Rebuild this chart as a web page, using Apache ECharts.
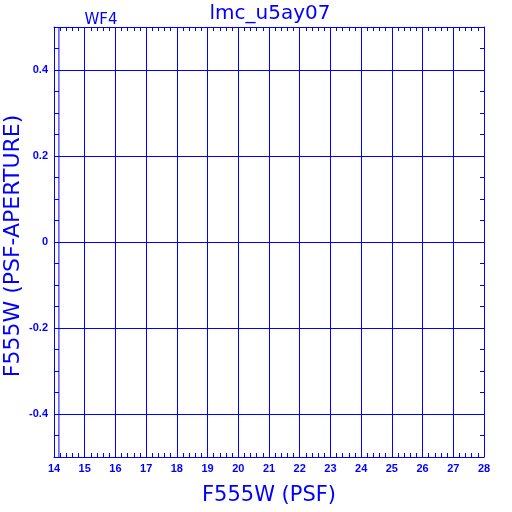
<!DOCTYPE html>
<html>
<head>
<meta charset="utf-8">
<script src="https://cdn.jsdelivr.net/npm/echarts@6/dist/echarts.min.js"></script>
<style>html,body{margin:0;padding:0;background:#fff}#c{width:512px;height:512px}</style>
</head>
<body>
<div id="c"></div>
<script>
var titleText = 'lmc_u5ay07';
var chipLabel = 'WF4';
var xName = 'F555W (PSF)';
var yName = 'F555W (PSF-APERTURE)';
var xRange = [14, 28];
var yRange = [-0.5, 0.5];
var markerLineX = [14.16, 14.16];
var markerLineY = [-0.5, 0.5];

var BLUE = '#0000ff';
var chart = echarts.init(document.getElementById('c'), null, {renderer: 'canvas'});
var lineData = markerLineX.map(function (x, i) { return [x, markerLineY[i]]; });

chart.setOption({
  animation: false,
  backgroundColor: '#ffffff',
  title: [
    {text: titleText, left: 265, top: -1, textAlign: 'center',
     textStyle: {color: BLUE, fontSize: 20, fontWeight: 'normal', fontFamily: 'DejaVu Sans'}},
    {text: chipLabel, left: 96, top: 8, textAlign: 'center',
     textStyle: {color: BLUE, fontSize: 15, fontWeight: 'normal', fontFamily: 'DejaVu Sans'}}
  ],
  graphic: [
    {type: 'text', x: 13, y: 246, rotation: Math.PI / 2, silent: true,
     style: {text: yName, fill: BLUE, font: '22px "DejaVu Sans"', align: 'center', verticalAlign: 'middle'}}
  ],
  grid: {left: 54, top: 27, width: 430, height: 430, containLabel: false, outerBoundsMode: 'none'},
  xAxis: [
    {type: 'value', position: 'bottom', min: xRange[0], max: xRange[1], interval: 1,
     name: xName, nameLocation: 'middle', nameGap: 28,
     nameTextStyle: {color: BLUE, fontSize: 21, fontFamily: 'DejaVu Sans'},
     axisLine: {show: true, onZero: false, lineStyle: {color: BLUE, width: 1}},
     axisTick: {show: false, inside: true},
     minorTick: {show: true, splitNumber: 5, length: 4, lineStyle: {color: BLUE, width: 1}},
     splitLine: {show: true, lineStyle: {color: BLUE, width: 1}},
     axisLabel: {color: BLUE, fontSize: 11, fontWeight: 'bold', fontFamily: 'Liberation Sans', margin: 6}},
    {type: 'value', position: 'top', min: xRange[0], max: xRange[1], interval: 1,
     axisLine: {show: true, onZero: false, lineStyle: {color: BLUE, width: 1}},
     axisTick: {show: false, inside: true},
     minorTick: {show: true, splitNumber: 5, length: 4, lineStyle: {color: BLUE, width: 1}},
     splitLine: {show: false},
     axisLabel: {show: false}}
  ],
  yAxis: [
    {type: 'value', position: 'left', min: yRange[0], max: yRange[1], splitNumber: 5,
     axisLine: {show: true, onZero: false, lineStyle: {color: BLUE, width: 1}},
     axisTick: {show: false},
     splitLine: {show: true, lineStyle: {color: BLUE, width: 1}},
     axisLabel: {color: BLUE, fontSize: 11, fontWeight: 'bold', fontFamily: 'Liberation Sans', margin: 6,
       showMinLabel: false, showMaxLabel: false,
       formatter: function (v) { return Math.abs(v) > 0.45 ? '' : String(v); }}},
    {type: 'value', position: 'left', min: yRange[0], max: yRange[1], interval: 0.05,
     axisLine: {show: false, onZero: false},
     axisTick: {show: true, inside: true, length: 5, lineStyle: {color: BLUE, width: 1}},
     splitLine: {show: false}, axisLabel: {show: false}},
    {type: 'value', position: 'right', min: yRange[0], max: yRange[1], interval: 0.05,
     axisLine: {show: true, onZero: false, lineStyle: {color: BLUE, width: 1}},
     axisTick: {show: true, inside: true, length: 4, lineStyle: {color: BLUE, width: 1}},
     splitLine: {show: false}, axisLabel: {show: false}}
  ],
  series: [
    {type: 'line', xAxisIndex: 0, yAxisIndex: 0, data: lineData, symbol: 'none',
     lineStyle: {color: BLUE, width: 1}, silent: true}
  ]
});
</script>
</body>
</html>
